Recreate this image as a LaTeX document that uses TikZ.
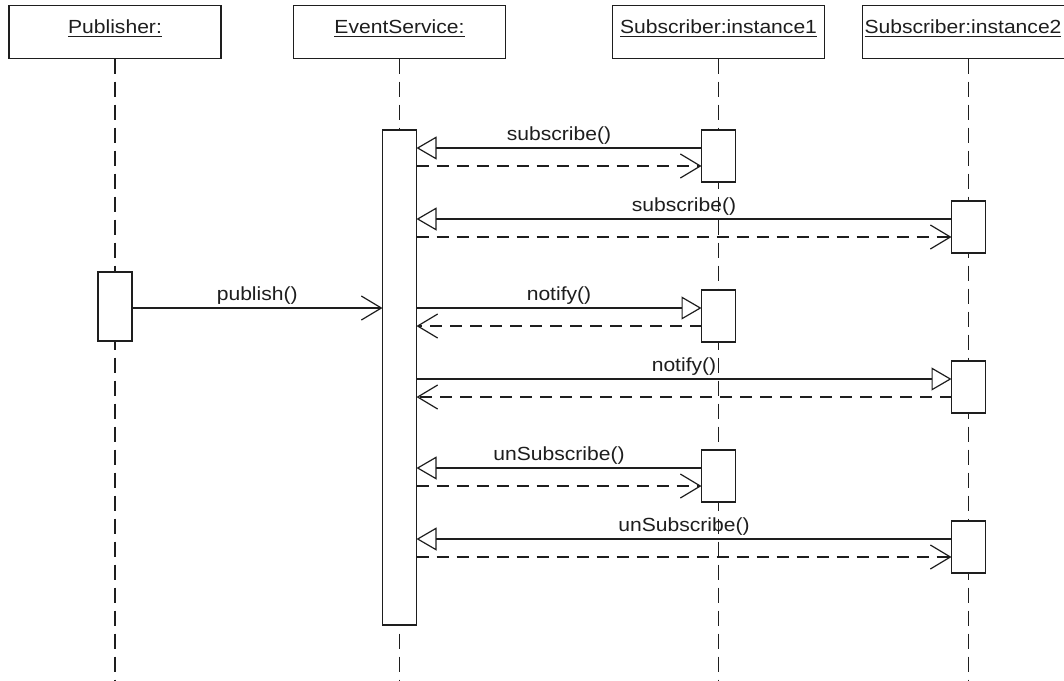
\documentclass[tikz,border=0pt]{standalone}
\usepackage{fontspec}
\newfontfamily\diagfont[FakeStretch=1.11]{Liberation Sans}
\usetikzlibrary{arrows.meta}
\definecolor{ink}{HTML}{1E1E1E}
\begin{document}
\begin{tikzpicture}[x=1pt,y=-1pt,
  every node/.style={inner sep=0pt, outer sep=0pt},
  headbox/.style={draw=ink, line width=1.4pt, fill=white, minimum width=212pt, minimum height=53pt},
  headlbl/.style={font=\diagfont\fontsize{19}{22}\selectfont, text=ink, anchor=base},
  uline/.style={draw=ink, line width=1.2pt},
  actbox/.style={draw=ink, line width=1.4pt, fill=white, minimum width=34pt},
  lifeline/.style={draw=ink, line width=1.2pt, dash pattern=on 15pt off 8pt},
  sync/.style={draw=ink, line width=1.2pt, -{Triangle[open, length=20pt, width=23pt]}},
  call/.style={draw=ink, line width=1.2pt, -{Straight Barb[length=20pt, width=24pt]}},
  reply/.style={call, dash pattern=on 12pt off 8pt},
  msglbl/.style={font=\diagfont\fontsize{19}{22}\selectfont, text=ink, anchor=base, yshift=7.5pt}
]
\fill[white] (0,0) rectangle (1064,680);
\useasboundingbox (0,0) rectangle (1064,680);
\coordinate (bot) at (0,680);

% heads
\node[headbox] (ph) at (115,32) {};
\node[headbox] (eh) at (399.5,32) {};
\node[headbox] (s1h) at (718.5,32) {};
\node[headbox] (s2h) at (968.5,32) {};
\node[headlbl] (pl) at (115,33.5) {Publisher:};
\node[headlbl] (el) at (399.5,33.5) {EventService:};
\node[headlbl] (s1l) at (718.5,33.5) {Subscriber:instance1};
\node[headlbl] (s2l) at (963,33.5) {Subscriber:instance2};
\foreach \n in {pl,el,s1l,s2l}
  \draw[uline] ([yshift=-2.8pt]\n.base west) -- ([yshift=-2.8pt]\n.base east);

% lifelines
\foreach \h in {ph,eh,s1h,s2h}
  \draw[lifeline] (\h.south) -- (\h.south |- bot);

% activations
\node[actbox, minimum height=69pt] (pa) at (115,306.5) {};
\node[actbox, minimum height=495pt] (ea) at (399.5,377.5) {};
\node[actbox, minimum height=52pt] (s1a) at (718.5,156) {};
\node[actbox, minimum height=52pt] (s1b) at (718.5,316) {};
\node[actbox, minimum height=52pt] (s1c) at (718.5,476) {};
\node[actbox, minimum height=52pt] (s2a) at (968.5,227) {};
\node[actbox, minimum height=52pt] (s2b) at (968.5,387) {};
\node[actbox, minimum height=52pt] (s2c) at (968.5,547) {};

% message rows
\coordinate (m1) at (0,148);
\coordinate (m2) at (0,166);
\coordinate (m3) at (0,219);
\coordinate (m4) at (0,237);
\coordinate (m5) at (0,308);
\coordinate (m6) at (0,326);
\coordinate (m7) at (0,379);
\coordinate (m8) at (0,397);
\coordinate (m9) at (0,468);
\coordinate (m10) at (0,486);
\coordinate (m11) at (0,539);
\coordinate (m12) at (0,557);

% messages
\draw[sync] (s1a.west |- m1) -- node[msglbl]{subscribe()} (ea.east |- m1);
\draw[reply] (ea.east |- m2) -- (s1a.west |- m2);
\draw[sync] (s2a.west |- m3) -- node[msglbl]{subscribe()} (ea.east |- m3);
\draw[reply] (ea.east |- m4) -- (s2a.west |- m4);
\draw[call] (pa.east |- m5) -- node[msglbl]{publish()} (ea.west |- m5);
\draw[sync] (ea.east |- m5) -- node[msglbl]{notify()} (s1b.west |- m5);
\draw[reply] (s1b.west |- m6) -- (ea.east |- m6);
\draw[sync] (ea.east |- m7) -- node[msglbl]{notify()} (s2b.west |- m7);
\draw[reply] (s2b.west |- m8) -- (ea.east |- m8);
\draw[sync] (s1c.west |- m9) -- node[msglbl]{unSubscribe()} (ea.east |- m9);
\draw[reply] (ea.east |- m10) -- (s1c.west |- m10);
\draw[sync] (s2c.west |- m11) -- node[msglbl]{unSubscribe()} (ea.east |- m11);
\draw[reply] (ea.east |- m12) -- (s2c.west |- m12);
\end{tikzpicture}
\end{document}
